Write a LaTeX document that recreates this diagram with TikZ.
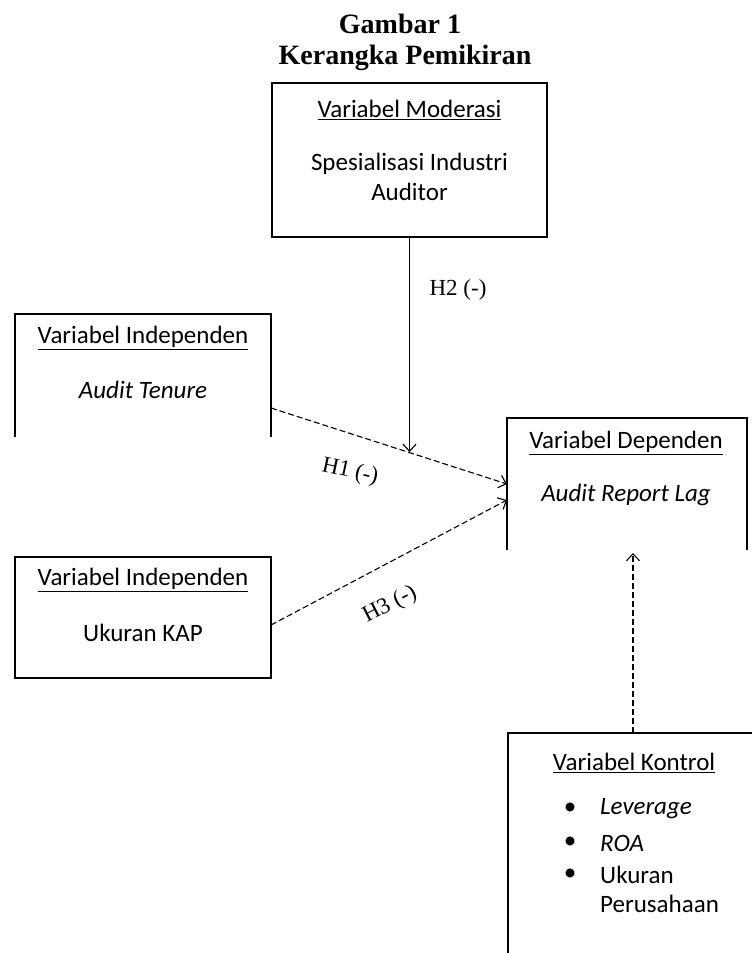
\documentclass[tikz,border=0pt]{standalone}
\usepackage{fontspec}
\setmainfont{Liberation Serif}
\newfontfamily\boxfont{Carlito}
\usetikzlibrary{arrows.meta}

\tikzset{
  frame/.style={line width=1.5pt},
  boxnode/.style={draw=none, inner sep=0pt, outer sep=0pt},
  boxtext/.style={inner sep=0pt, font=\boxfont\fontsize{25}{30}\selectfont, align=center},
  titletext/.style={inner sep=0pt, font=\bfseries\fontsize{28}{32}\selectfont},
  hyptext/.style={inner sep=0pt, font=\fontsize{23}{26}\selectfont},
  barb/.style={-{Straight Barb[length=7pt,width=13pt,line width=1.1pt]}},
  hyp/.style={barb, line width=1.1pt, dash pattern=on 6pt off 3pt},
  moder/.style={barb, line width=1.2pt}
}

\begin{document}
\begin{tikzpicture}[x=1pt,y=-1pt]
  \useasboundingbox (0,0) rectangle (752,953);

  % judul
  \node[titletext] (judul) at (400,24) {Gambar 1};
  \node[titletext] (subjudul) at (405,58) {Kerangka Pemikiran};

  % variabel moderasi
  \node[boxnode, draw, frame, minimum width=275pt, minimum height=154pt] (modbox) at (409.5,160) {};
  \node[boxtext] (modhead) at (409.5,110) {\underline{Variabel Moderasi}};
  \node[boxtext] (modtext) at (409.5,177) {Spesialisasi Industri\\Auditor};

  % variabel independen 1 (tanpa sisi bawah)
  \node[boxnode, minimum width=256pt, minimum height=123pt] (indbox) at (143,375.5) {};
  \draw[frame] (indbox.south west) -- (indbox.north west) -- (indbox.north east) -- (indbox.south east);
  \node[boxtext] (indhead) at (143,338) {\underline{Variabel Independen}};
  \node[boxtext] (indtext) at (143,390) {\itshape Audit Tenure};

  % variabel independen 2
  \node[boxnode, draw, frame, minimum width=256pt, minimum height=121pt] (kapbox) at (143,617.5) {};
  \node[boxtext] (kaphead) at (143,580) {\underline{Variabel Independen}};
  \node[boxtext] (kaptext) at (143,633) {Ukuran KAP};

  % variabel dependen (tanpa sisi bawah)
  \node[boxnode, minimum width=240pt, minimum height=132pt] (depbox) at (627,484) {};
  \draw[frame] (depbox.south west) -- (depbox.north west) -- (depbox.north east) -- (depbox.south east);
  \node[boxtext] (dephead) at (626,443) {\underline{Variabel Dependen}};
  \node[boxtext] (deptext) at (626,495) {\itshape Audit Report Lag};

  % variabel kontrol (terpotong)
  \node[boxnode, minimum width=244pt, minimum height=220pt, anchor=north west] (konbox) at (508,733) {};
  \draw[frame] (konbox.south west) -- (konbox.north west) -- (konbox.north east);
  \node[boxtext] (konhead) at (634,763) {\underline{Variabel Kontrol}};
  \foreach \y/\txt/\name in {809/{\itshape Leverage}/a, 843/{\itshape ROA}/b, 875/Ukuran/c} {
    \node[boxtext] (bul\name) at (570,\y) {\textbullet};
    \node[boxtext, anchor=west] (kon\name) at (600,\y) {\txt};
  }
  \node[boxtext, anchor=west] (kond) at (600,904) {Perusahaan};

  % panah
  \coordinate (h1start) at (271,408);
  \coordinate (h2end) at (409.5,452);
  \coordinate (h3start) at (271,625);
  \coordinate (h3end) at (507,500);
  \coordinate (kontop) at (633,733);
  \draw[hyp] (h1start) -- (depbox.west);
  \draw[hyp] (h3start) -- (h3end);
  \draw[moder] (modbox.south) -- (h2end);
  \draw[hyp] (kontop) -- (633,553);

  % label hipotesis
  \node[hyptext, rotate=-12] (h1) at (350,472) {H1 (-)};
  \node[hyptext] (h2) at (458,290) {H2 (-)};
  \node[hyptext, rotate=27] (h3) at (390,605) {H3 (-)};
\end{tikzpicture}
\end{document}
